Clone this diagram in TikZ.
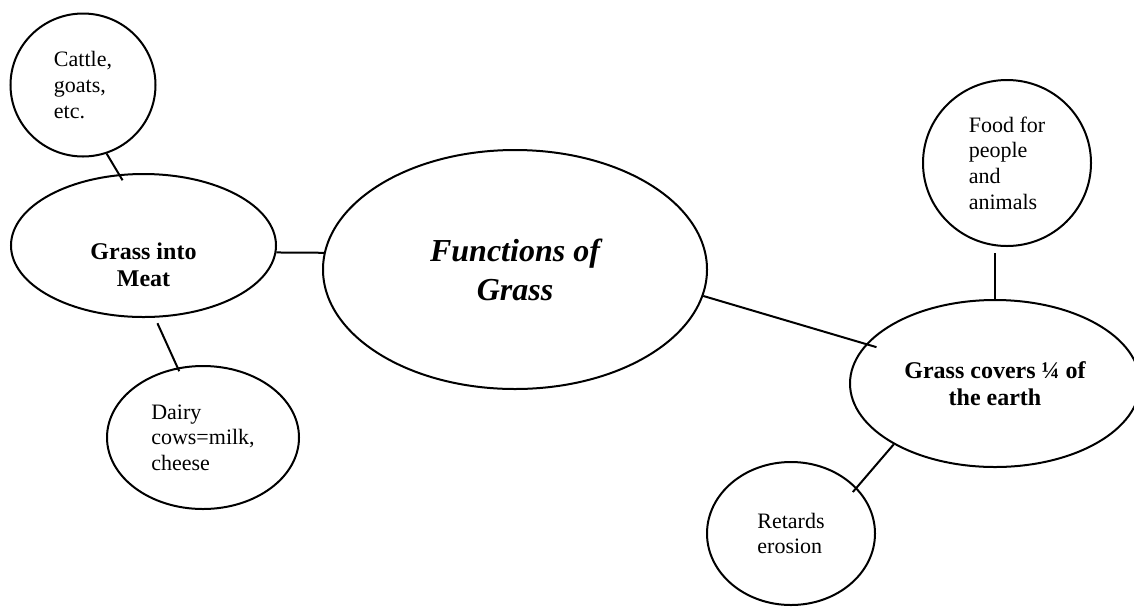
\documentclass[tikz,border=0pt]{standalone}
\usepackage{fontspec}
\setmainfont{Liberation Serif}
\usepackage{tikz}
\usetikzlibrary{shapes.geometric}

\begin{document}
\begin{tikzpicture}[line width=1pt]
      \tikzstyle{link} = [line width=1pt]
      \tikzstyle{bubble} = [ellipse, draw=black, line width=1pt, inner sep=0pt, align=left, font=\fontsize{11}{12.8}\selectfont]
      \tikzstyle{topic} = [bubble, align=center, font=\fontsize{12}{13.5}\selectfont\bfseries]
      \useasboundingbox (0pt,0pt) rectangle (567pt,-303pt);
      \node (cattle) [bubble, minimum width=72.5pt, minimum height=71.5pt] at (41.5pt,-42.5pt) {Cattle,\\goats,\\etc.};
      \node (meat) [topic, minimum width=132.5pt, minimum height=71.5pt] at (71.75pt,-122.75pt) {\rule{0pt}{28pt}Grass into\\Meat};
      \node (dairy) [bubble, minimum width=96pt, minimum height=71.5pt] at (101.5pt,-218.75pt) {Dairy\\cows=milk,\\cheese};
      \node (grass) [topic, minimum width=192pt, minimum height=119.5pt, font=\fontsize{16}{19.5}\selectfont\bfseries\itshape] at (257.5pt,-134.75pt) {Functions of\\Grass};
      \node (food) [bubble, minimum width=84pt, minimum height=83pt] at (503.5pt,-81.5pt) {Food for\\people\\and\\animals};
      \node (earth) [topic, minimum width=145pt, minimum height=83.5pt] at (497.5pt,-191.75pt) {Grass covers ¼ of\\the earth};
      \node (erosion) [bubble, minimum width=84pt, minimum height=71.5pt] at (395.5pt,-266.75pt) {Retards\\erosion};
      \draw [link, shorten >=-3.5pt] (cattle.-71) -- (meat.109);
      \draw [link] (meat.-3) -- (grass.175);
      \draw [link, shorten <=3pt, shorten >=-2pt] (meat.-81) -- (dairy.110);
      \draw [link, shorten >=-5.5pt] (grass.-8) -- (earth.163);
      \draw [link, shorten <=3pt] (food.south -| earth.north) -- (earth.north);
      \draw [link, shorten >=-3pt] (earth.211) -- (erosion.35);
  \end{tikzpicture}
\end{document}
